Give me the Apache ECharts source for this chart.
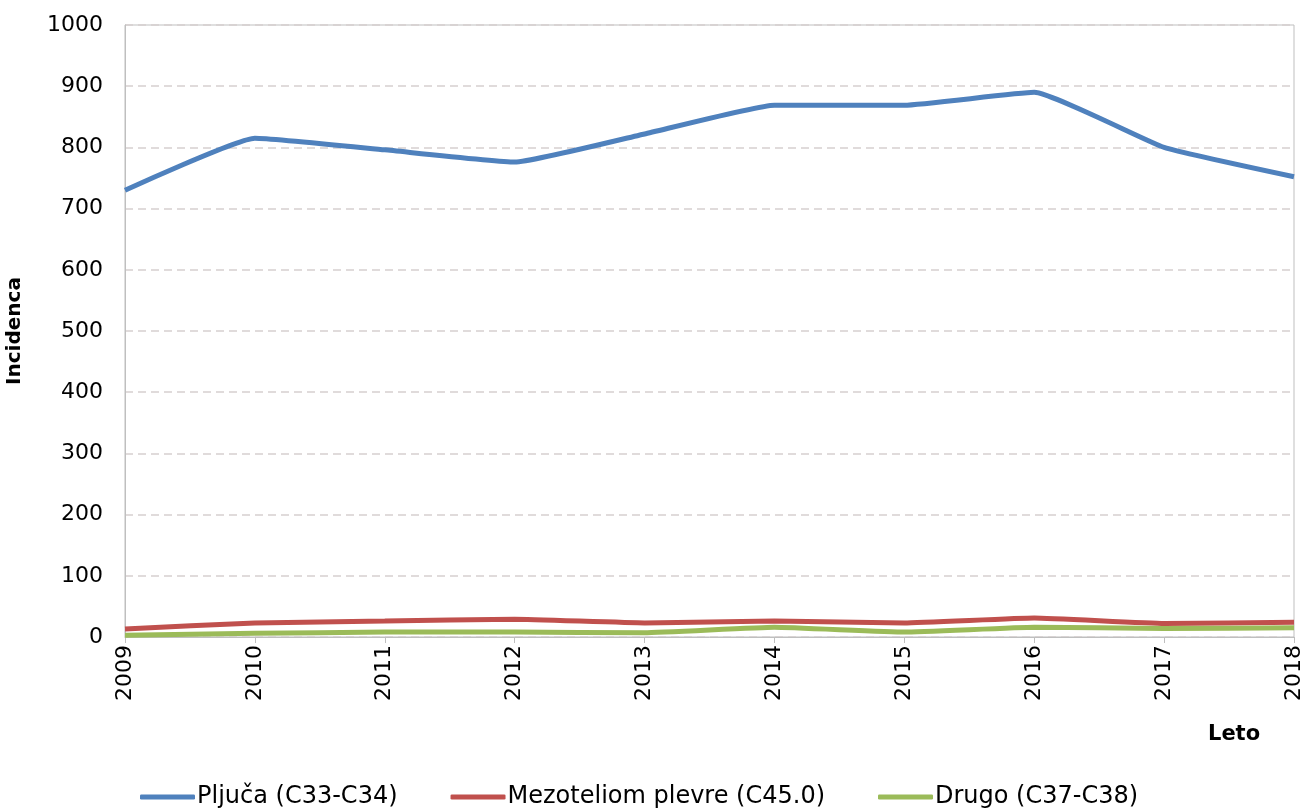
<!DOCTYPE html>
<html>
<head>
<meta charset="utf-8">
<title>Incidenca</title>
<script src="https://cdn.jsdelivr.net/npm/echarts@6/dist/echarts.min.js"></script>
<style>
  html, body { margin: 0; padding: 0; background: #fff; }
  #chart { width: 1308px; height: 812px; }
</style>
</head>
<body>
<div id="chart"></div>
<script>
// podatki
var years = ['2009', '2010', '2011', '2012', '2013', '2014', '2015', '2016', '2017', '2018'];
var pljuca = [730, 815, 796, 776, 822, 869, 869, 890, 800, 752];
var mezoteliom = [13, 23, 26, 29, 23, 26, 23, 31, 22, 24];
var drugo = [3, 6, 8, 8, 7, 16, 8, 16, 14, 15];
var yTicks = [0, 100, 200, 300, 400, 500, 600, 700, 800, 900, 1000];

var font = 'DejaVu Sans, sans-serif';
var chart = echarts.init(document.getElementById('chart'));

function line(name, data, color) {
    return {
        name: name,
        type: 'line',
        data: data,
        smooth: 0.12,
        symbol: 'none',
        lineStyle: { color: color, width: 5 },
        itemStyle: { color: color }
    };
}

var option = {
    animation: false,
    textStyle: { fontFamily: font },
    grid: {
        left: 125, right: 14, top: 25, bottom: 175,
        outerBoundsMode: 'none',
        show: true, borderColor: '#bfbfbf', borderWidth: 1
    },
    legend: {
        bottom: -2,
        left: 135,
        itemWidth: 55,
        itemHeight: 5,
        itemGap: 53,
        icon: 'roundRect',
        textStyle: { fontSize: 24, color: '#000', fontFamily: font, padding: [0, 0, 0, -3] },
        data: ['Pljuča (C33-C34)', 'Mezoteliom plevre (C45.0)', 'Drugo (C37-C38)']
    },
    // naslov osi x
    graphic: [{
        type: 'text',
        left: 1208,
        top: 724,
        style: { text: 'Leto', font: 'bold 21px DejaVu Sans', fill: '#000' }
    }],
    xAxis: {
        type: 'category',
        data: years,
        boundaryGap: false,
        axisLine: { lineStyle: { color: '#bfbfbf', width: 1 } },
        axisTick: { show: true, length: 6, lineStyle: { color: '#bfbfbf' } },
        axisLabel: { rotate: 90, fontSize: 22, color: '#000', margin: 8 },
        splitLine: { show: false }
    },
    yAxis: {
        type: 'value',
        min: yTicks[0],
        max: yTicks[yTicks.length - 1],
        interval: 100,
        name: 'Incidenca',
        nameLocation: 'middle',
        nameGap: 100,
        nameRotate: 90,
        nameTextStyle: { fontSize: 20, fontWeight: 'bold', color: '#000' },
        axisLine: { show: true, lineStyle: { color: '#bfbfbf' } },
        axisTick: { show: false },
        axisLabel: { fontSize: 22, color: '#000', margin: 22, formatter: function (v) { return String(v); } },
        splitLine: { lineStyle: { color: '#d6d0d0', type: [8, 5], width: 1.5 } }
    },
    series: [
        line('Pljuča (C33-C34)', pljuca, '#4f81bd'),
        line('Mezoteliom plevre (C45.0)', mezoteliom, '#c0504d'),
        line('Drugo (C37-C38)', drugo, '#9bbb59')
    ]
};
chart.setOption(option);
</script>
</body>
</html>
